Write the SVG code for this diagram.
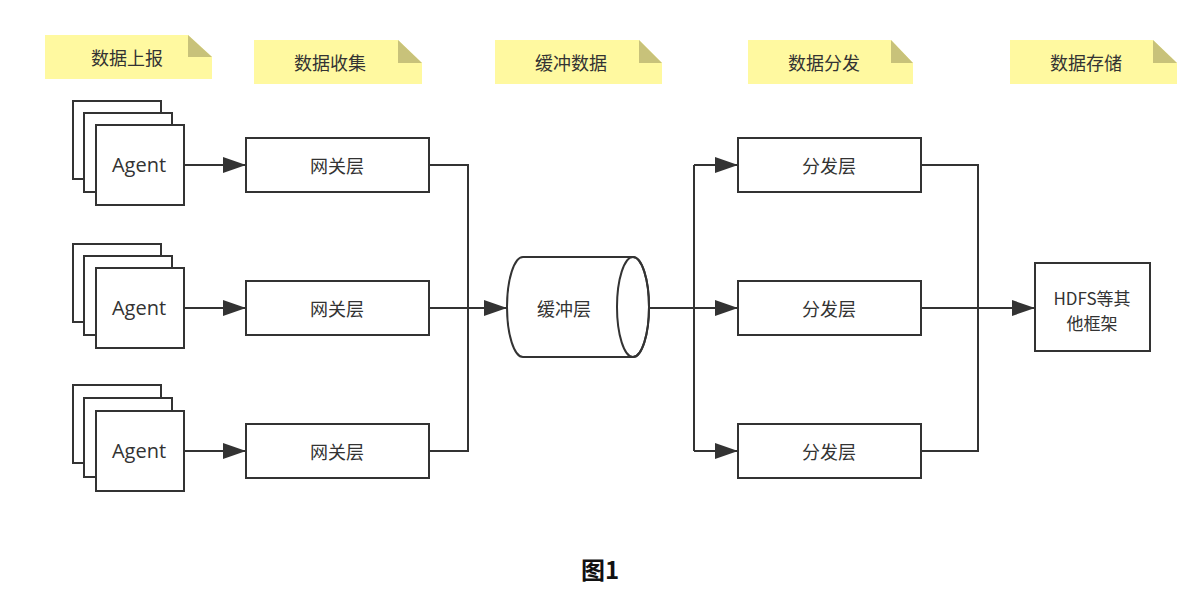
<svg xmlns="http://www.w3.org/2000/svg" width="1201" height="603" viewBox="0 0 1201 603">
<defs>
<marker id="arr" markerUnits="userSpaceOnUse" markerWidth="24" markerHeight="18" refX="23" refY="9" orient="auto">
<path d="M0,1 L23,9 L0,17 Z" fill="#333"/>
</marker>
<style>
.note{fill:#fff9a0;}
.fold{fill:#c8c27a;}
.box{fill:#fff;stroke:#333;stroke-width:2;}
.ln{fill:none;stroke:#333;stroke-width:2;}
.t{font-family:"Noto Sans CJK SC","Open Sans",sans-serif;font-size:18px;fill:#333;text-anchor:middle;dominant-baseline:central;}
.nt{font-family:"Noto Sans CJK SC",sans-serif;font-size:18px;fill:#333;text-anchor:middle;dominant-baseline:central;}
.ag{font-family:"Open Sans","Noto Sans",sans-serif;font-size:20px;fill:#333;text-anchor:middle;dominant-baseline:central;}
</style>
</defs>
<rect width="1201" height="603" fill="#fff"/>

<g id="note1"><path class="note" d="M45,35 H188 L212,57 V79 H45 Z"/><path class="fold" d="M188,35 L212,57 H188 Z"/><text class="nt" x="127" y="57">数据上报</text></g>
<g id="note2"><path class="note" d="M254,40 H398 L422,63 V84 H254 Z"/><path class="fold" d="M398,40 L422,63 H398 Z"/><text class="nt" x="330" y="62">数据收集</text></g>
<g id="note3"><path class="note" d="M495,40 H639 L662,63 V84 H495 Z"/><path class="fold" d="M639,40 L662,63 H639 Z"/><text class="nt" x="571" y="62">缓冲数据</text></g>
<g id="note4"><path class="note" d="M748,40 H891 L913,63 V84 H748 Z"/><path class="fold" d="M891,40 L913,63 H891 Z"/><text class="nt" x="824" y="62">数据分发</text></g>
<g id="note5"><path class="note" d="M1010,40 H1153 L1177,63 V84 H1010 Z"/><path class="fold" d="M1153,40 L1177,63 H1153 Z"/><text class="nt" x="1086" y="62">数据存储</text></g>

<g id="agent1">
<rect class="box" x="73" y="101" width="88" height="78"/>
<rect class="box" x="84" y="113" width="88" height="79"/>
<rect class="box" x="96" y="125" width="88" height="80"/>
<text class="ag" x="139" y="164">Agent</text></g>
<g id="agent2">
<rect class="box" x="73" y="244" width="88" height="78"/>
<rect class="box" x="84" y="256" width="88" height="79"/>
<rect class="box" x="96" y="268" width="88" height="80"/>
<text class="ag" x="139" y="307">Agent</text></g>
<g id="agent3">
<rect class="box" x="73" y="385" width="88" height="78"/>
<rect class="box" x="84" y="398" width="88" height="79"/>
<rect class="box" x="96" y="411" width="88" height="80"/>
<text class="ag" x="139" y="450">Agent</text></g>

<g id="gw1"><rect class="box" x="246" y="138" width="183" height="54"/><text class="t" x="337" y="165">网关层</text></g>
<g id="gw2"><rect class="box" x="246" y="281" width="183" height="54"/><text class="t" x="337" y="308">网关层</text></g>
<g id="gw3"><rect class="box" x="246" y="424" width="183" height="54"/><text class="t" x="337" y="451">网关层</text></g>

<g id="buffer">
<path class="box" d="M523,257 L633,257 A16,50 0 0,1 633,357 L523,357 A16,50 0 0,1 523,257 Z"/>
<ellipse class="ln" cx="633" cy="307" rx="16" ry="50"/>
<text class="t" x="564" y="308">缓冲层</text></g>

<g id="dist1"><rect class="box" x="738" y="138" width="183" height="54"/><text class="t" x="829" y="165">分发层</text></g>
<g id="dist2"><rect class="box" x="738" y="281" width="183" height="54"/><text class="t" x="829" y="308">分发层</text></g>
<g id="dist3"><rect class="box" x="738" y="424" width="183" height="54"/><text class="t" x="829" y="451">分发层</text></g>

<g id="hdfs"><rect class="box" x="1035" y="263" width="115" height="88"/>
<text class="t" x="1092" y="297" style="font-size:17px">HDFS等其</text><text class="t" x="1092" y="322" style="font-size:17px">他框架</text></g>

<g id="connectors">
<path class="ln" d="M184,165 H246" marker-end="url(#arr)"/>
<path class="ln" d="M184,308 H246" marker-end="url(#arr)"/>
<path class="ln" d="M184,451 H246" marker-end="url(#arr)"/>
<path class="ln" d="M429,165 H468 V451 H429"/>
<path class="ln" d="M429,308 H507" marker-end="url(#arr)"/>
<path class="ln" d="M649,308 H694"/>
<path class="ln" d="M694,165 V451"/>
<path class="ln" d="M694,165 H738" marker-end="url(#arr)"/>
<path class="ln" d="M694,308 H738" marker-end="url(#arr)"/>
<path class="ln" d="M694,451 H738" marker-end="url(#arr)"/>
<path class="ln" d="M921,165 H978 V451 H921"/>
<path class="ln" d="M921,308 H1035" marker-end="url(#arr)"/>
</g>

<text x="600" y="568" font-family="'Noto Sans CJK SC','Liberation Sans',sans-serif" font-size="24" font-weight="bold" fill="#111" text-anchor="middle" dominant-baseline="central">图1</text>
</svg>
